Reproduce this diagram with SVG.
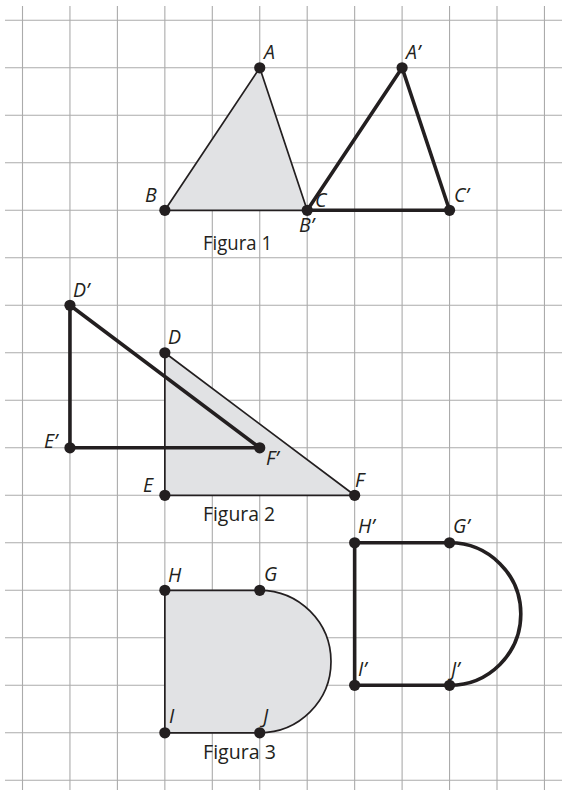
<svg xmlns="http://www.w3.org/2000/svg" width="562" height="790" viewBox="0 0 562 790">
<style>
.grid line{stroke:#ababab;stroke-width:1.1}
.thin{stroke:#231f20;stroke-width:1.7;fill:#e1e2e4;stroke-linejoin:round}
.thick{stroke:#231f20;stroke-width:3.6;fill:none;stroke-linejoin:round}
.dot{fill:#231f20}
.lbl{font-family:"Open Sans","Noto Sans",sans-serif;font-style:italic;font-size:19.5px;fill:#231f20}
.cap{font-family:"Open Sans","Noto Sans",sans-serif;font-size:20px;fill:#231f20}
</style>
<rect width="562" height="790" fill="#ffffff"/>
<g class="grid">
<line x1="22.5" y1="6" x2="22.5" y2="790"/>
<line x1="69.95" y1="6" x2="69.95" y2="790"/>
<line x1="117.4" y1="6" x2="117.4" y2="790"/>
<line x1="164.85" y1="6" x2="164.85" y2="790"/>
<line x1="212.3" y1="6" x2="212.3" y2="790"/>
<line x1="259.75" y1="6" x2="259.75" y2="790"/>
<line x1="307.2" y1="6" x2="307.2" y2="790"/>
<line x1="354.65" y1="6" x2="354.65" y2="790"/>
<line x1="402.1" y1="6" x2="402.1" y2="790"/>
<line x1="449.55" y1="6" x2="449.55" y2="790"/>
<line x1="497" y1="6" x2="497" y2="790"/>
<line x1="544.45" y1="6" x2="544.45" y2="790"/>
<line x1="5" y1="20.3" x2="562" y2="20.3"/>
<line x1="5" y1="67.8" x2="562" y2="67.8"/>
<line x1="5" y1="115.3" x2="562" y2="115.3"/>
<line x1="5" y1="162.8" x2="562" y2="162.8"/>
<line x1="5" y1="210.3" x2="562" y2="210.3"/>
<line x1="5" y1="257.8" x2="562" y2="257.8"/>
<line x1="5" y1="305.3" x2="562" y2="305.3"/>
<line x1="5" y1="352.8" x2="562" y2="352.8"/>
<line x1="5" y1="400.3" x2="562" y2="400.3"/>
<line x1="5" y1="447.8" x2="562" y2="447.8"/>
<line x1="5" y1="495.3" x2="562" y2="495.3"/>
<line x1="5" y1="542.8" x2="562" y2="542.8"/>
<line x1="5" y1="590.3" x2="562" y2="590.3"/>
<line x1="5" y1="637.8" x2="562" y2="637.8"/>
<line x1="5" y1="685.3" x2="562" y2="685.3"/>
<line x1="5" y1="732.8" x2="562" y2="732.8"/>
<line x1="5" y1="780.3" x2="562" y2="780.3"/>
</g>
<g id="figura1">
<path class="thin" d="M259.75 67.8 L164.85 210.3 L307.2 210.3 Z"/>
<path class="thick" d="M402.1 67.8 L307.2 210.3 L449.55 210.3 Z"/>
<circle class="dot" cx="259.75" cy="67.8" r="5.6"/>
<circle class="dot" cx="164.85" cy="210.3" r="5.6"/>
<circle class="dot" cx="307.2" cy="210.3" r="5.6"/>
<circle class="dot" cx="402.1" cy="67.8" r="5.6"/>
<circle class="dot" cx="449.55" cy="210.3" r="5.6"/>
<text class="lbl" x="264" y="59">A</text>
<text class="lbl" x="145" y="202">B</text>
<text class="lbl" x="315" y="207">C</text>
<text class="lbl" x="406" y="59">A’</text>
<text class="lbl" x="454" y="202">C’</text>
<text class="lbl" x="299" y="232">B’</text>
<text class="cap" x="203" y="250" textLength="69" lengthAdjust="spacingAndGlyphs">Figura 1</text>
</g>
<g id="figura2">
<path class="thin" d="M164.85 352.8 L164.85 495.3 L354.65 495.3 Z"/>
<path class="thick" d="M69.95 305.3 L69.95 447.8 L259.75 447.8 Z"/>
<circle class="dot" cx="164.85" cy="352.8" r="5.6"/>
<circle class="dot" cx="164.85" cy="495.3" r="5.6"/>
<circle class="dot" cx="354.65" cy="495.3" r="5.6"/>
<circle class="dot" cx="69.95" cy="305.3" r="5.6"/>
<circle class="dot" cx="69.95" cy="447.8" r="5.6"/>
<circle class="dot" cx="259.75" cy="447.8" r="5.6"/>
<text class="lbl" x="73" y="297">D’</text>
<text class="lbl" x="168" y="344">D</text>
<text class="lbl" x="44" y="448">E’</text>
<text class="lbl" x="266" y="465">F’</text>
<text class="lbl" x="143" y="492">E</text>
<text class="lbl" x="355" y="487">F</text>
<text class="cap" x="203" y="521" textLength="72" lengthAdjust="spacingAndGlyphs">Figura 2</text>
</g>
<g id="figura3">
<path class="thin" d="M164.85 590.3 L259.75 590.3 A71.25 71.25 0 0 1 259.75 732.8 L164.85 732.8 Z"/>
<path class="thick" d="M354.65 542.8 L449.55 542.8 A71.25 71.25 0 0 1 449.55 685.3 L354.65 685.3 Z"/>
<circle class="dot" cx="164.85" cy="590.3" r="5.6"/>
<circle class="dot" cx="259.75" cy="590.3" r="5.6"/>
<circle class="dot" cx="164.85" cy="732.8" r="5.6"/>
<circle class="dot" cx="259.75" cy="732.8" r="5.6"/>
<circle class="dot" cx="354.65" cy="542.8" r="5.6"/>
<circle class="dot" cx="449.55" cy="542.8" r="5.6"/>
<circle class="dot" cx="354.65" cy="685.3" r="5.6"/>
<circle class="dot" cx="449.55" cy="685.3" r="5.6"/>
<text class="lbl" x="168" y="582">H</text>
<text class="lbl" x="264" y="581">G</text>
<text class="lbl" x="169" y="723">I</text>
<text class="lbl" x="263" y="723">J</text>
<text class="lbl" x="358" y="533">H’</text>
<text class="lbl" x="453" y="533">G’</text>
<text class="lbl" x="358" y="676">I’</text>
<text class="lbl" x="451" y="676">J’</text>
<text class="cap" x="203" y="759" textLength="73" lengthAdjust="spacingAndGlyphs">Figura 3</text>
</g>
</svg>
